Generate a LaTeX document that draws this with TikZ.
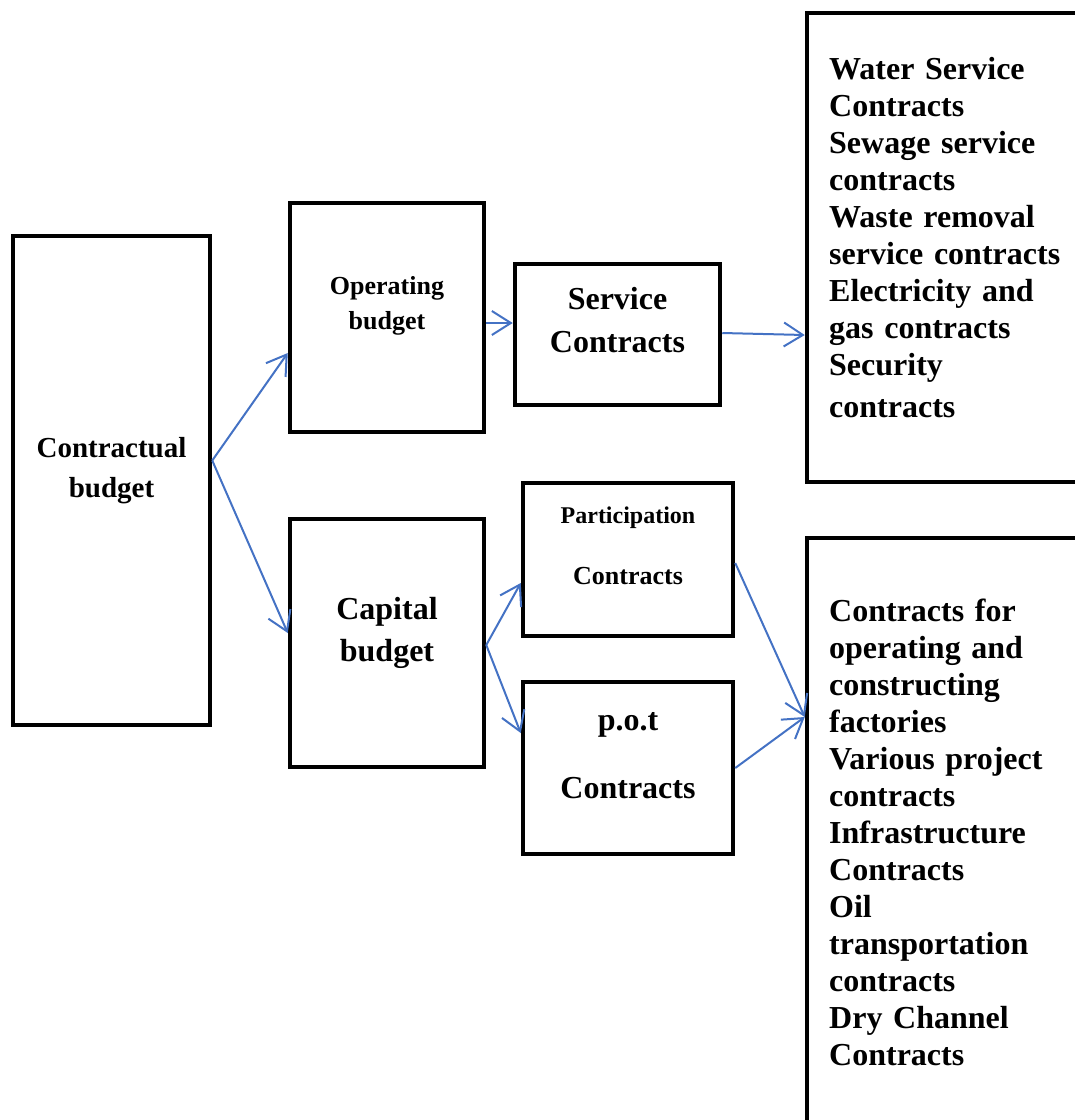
\documentclass[tikz,border=0pt]{standalone}
\usepackage{fontspec}
\setmainfont{Liberation Serif}
\usetikzlibrary{arrows.meta}
\definecolor{arrowblue}{RGB}{68,114,196}
\newcommand{\sz}[2]{\fontsize{#1}{#2}\selectfont}
\tikzset{
  box/.style={draw, line width=4.5pt, inner sep=0pt},
  txt/.style={align=center, inner sep=0pt},
  list/.style={anchor=north west, inner sep=0pt, text width=250pt, align=left, font=\bfseries\sz{32}{37}},
  link/.style={arrowblue, line width=2pt, -{Straight Barb[length=19pt,width=24pt]}}
}
\begin{document}
\begin{tikzpicture}[x=1pt,y=-1pt]
\useasboundingbox (0,0) rectangle (1075,1120);
\clip (0,0) rectangle (1075,1120);

% boxes
\node[box, minimum width=197pt, minimum height=489pt] (contractual) at (111.5,480.5) {};
\node[box, minimum width=194pt, minimum height=229pt] (operating) at (387,317.5) {};
\node[box, minimum width=194pt, minimum height=248pt] (capital) at (387,643) {};
\node[box, minimum width=205pt, minimum height=141pt] (service) at (617.5,334.5) {};
\node[box, minimum width=210pt, minimum height=153pt] (particip) at (628,559.5) {};
\node[box, minimum width=210pt, minimum height=172pt] (pot) at (628,768) {};
\node[box, minimum width=313pt, minimum height=469pt] (servlist) at (963.5,247.5) {};
\node[box, minimum width=313pt, minimum height=592pt] (projlist) at (963.5,834) {};

% texts
\node[txt, font=\bfseries\sz{29}{40}] (contractual-t) at (111.5,471) {Contractual\\budget};
\node[txt, font=\bfseries\sz{26}{35}] (operating-t) at (387,306) {Operating\\budget};
\node[txt, font=\bfseries\sz{32}{42}] (capital-t) at (387,633) {Capital\\budget};
\node[txt, font=\bfseries\sz{32}{43}] (service-t) at (617.5,320) {Service\\Contracts};
\node[txt, font=\bfseries\sz{26}{61}] (particip-t) at (628,546) {{\sz{24}{61}Participation}\\Contracts};
\node[txt, font=\bfseries\sz{32}{68}] (pot-t) at (628,756) {p.o.t\\Contracts};

\node[list] (servlist-t) at (829,57) {Water Service\\Contracts\\Sewage service\\contracts\\Waste removal\\service contracts\\Electricity and\\gas contracts\\Security\\[5pt]contracts};
\node[list] (projlist-t) at (829,599) {Contracts for\\operating and\\constructing\\factories\\Various project\\contracts\\Infrastructure\\Contracts\\Oil\\transportation\\contracts\\Dry Channel\\Contracts};

% arrows
\draw[link] ([yshift=20pt]contractual.east) -- ([yshift=-35.5pt]operating.west);
\draw[link] ([yshift=20pt]contractual.east) -- ([yshift=10pt]capital.west);
\draw[link] ([yshift=-5.5pt]operating.east) -- ([yshift=11.5pt]service.west);
\draw[link] ([yshift=1.5pt]service.east) -- ([yshift=-87.5pt]servlist.west);
\draw[link] ([yshift=-2pt]capital.east) -- ([yshift=-23.5pt]particip.west);
\draw[link] ([yshift=-2pt]capital.east) -- ([yshift=35pt]pot.west);
\draw[link] ([yshift=-3.5pt]particip.east) -- ([yshift=117pt]projlist.west);
\draw[link] (pot.east) -- ([yshift=117pt]projlist.west);
\end{tikzpicture}
\end{document}
